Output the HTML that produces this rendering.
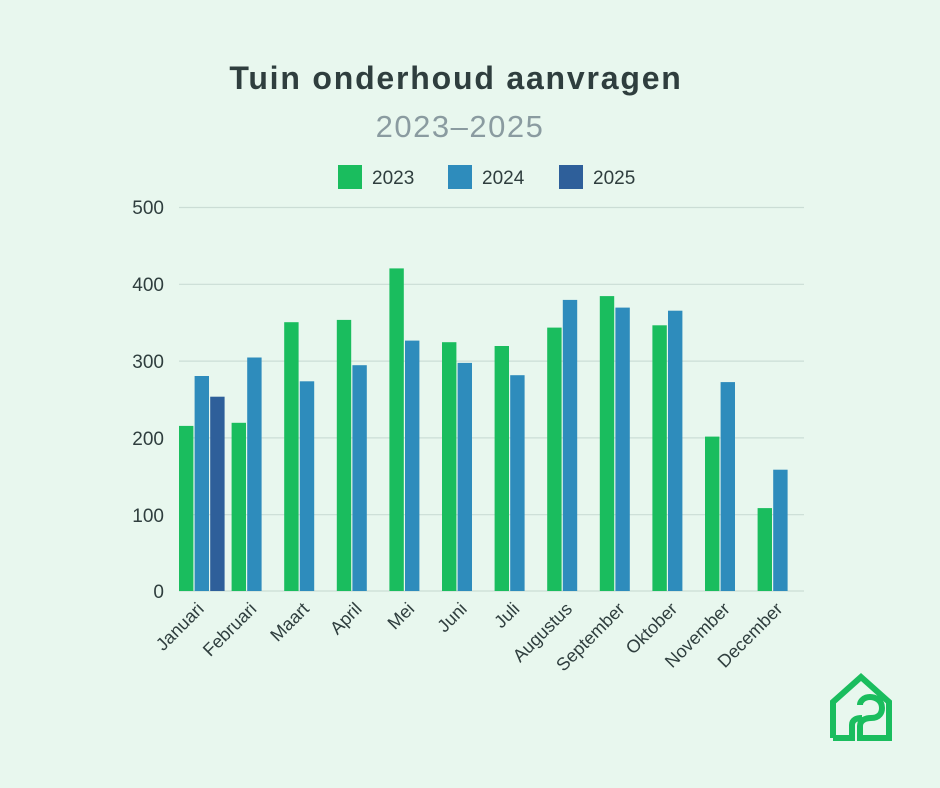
<!DOCTYPE html>
<html><head><meta charset="utf-8"><style>
body{margin:0;background:#e8f7ee;}
svg{display:block}
text{font-family:"Liberation Sans",sans-serif}
</style></head><body>
<svg width="940" height="788" viewBox="0 0 940 788">
<rect width="940" height="788" fill="#e8f7ee"/>
<text x="456" y="89" text-anchor="middle" font-size="32" font-weight="bold" letter-spacing="1.8" fill="#2f3e3e">Tuin onderhoud aanvragen</text>
<text x="460" y="137" text-anchor="middle" font-size="31" letter-spacing="1.5" fill="#8a9ba0">2023–2025</text>
<rect x="338" y="165" width="24" height="24" fill="#1abd5e"/><text x="372" y="184" font-size="19" fill="#2f3e3e">2023</text>
<rect x="448" y="165" width="24" height="24" fill="#2e8cbc"/><text x="482" y="184" font-size="19" fill="#2f3e3e">2024</text>
<rect x="559" y="165" width="24" height="24" fill="#2e5f9a"/><text x="593" y="184" font-size="19" fill="#2f3e3e">2025</text>
<g stroke="#cbddd5" stroke-width="1.2">
<line x1="179" x2="804" y1="207.5" y2="207.5"/><line x1="179" x2="804" y1="284.3" y2="284.3"/>
<line x1="179" x2="804" y1="361.1" y2="361.1"/><line x1="179" x2="804" y1="437.9" y2="437.9"/>
<line x1="179" x2="804" y1="514.7" y2="514.7"/><line x1="179" x2="804" y1="591" y2="591"/>
</g>
<g font-size="19" fill="#2f3e3e" text-anchor="end">
<text x="164" y="214">500</text><text x="164" y="291">400</text><text x="164" y="368">300</text>
<text x="164" y="445">200</text><text x="164" y="522">100</text><text x="164" y="598">0</text>
</g>
<g fill="#1abd5e">
<rect x="179" y="425.9" width="14.4" height="165.1"/>
<rect x="231.6" y="422.8" width="14.4" height="168.2"/>
<rect x="284.2" y="322.2" width="14.4" height="268.8"/>
<rect x="336.8" y="319.9" width="14.4" height="271.1"/>
<rect x="389.4" y="268.4" width="14.4" height="322.6"/>
<rect x="442" y="342.2" width="14.4" height="248.8"/>
<rect x="494.6" y="346" width="14.4" height="245"/>
<rect x="547.2" y="327.6" width="14.4" height="263.4"/>
<rect x="599.8" y="296.1" width="14.4" height="294.9"/>
<rect x="652.4" y="325.3" width="14.4" height="265.7"/>
<rect x="705" y="436.6" width="14.4" height="154.4"/>
<rect x="757.6" y="508.1" width="14.4" height="82.9"/>
</g>
<g fill="#2e8cbc">
<rect x="194.6" y="376" width="14.4" height="215"/>
<rect x="247.2" y="357.5" width="14.4" height="233.5"/>
<rect x="299.8" y="381.3" width="14.4" height="209.7"/>
<rect x="352.4" y="365.2" width="14.4" height="225.8"/>
<rect x="405" y="340.6" width="14.4" height="250.4"/>
<rect x="457.6" y="362.9" width="14.4" height="228.1"/>
<rect x="510.2" y="375.2" width="14.4" height="215.8"/>
<rect x="562.8" y="299.9" width="14.4" height="291.1"/>
<rect x="615.4" y="307.6" width="14.4" height="283.4"/>
<rect x="668" y="310.7" width="14.4" height="280.3"/>
<rect x="720.6" y="382.1" width="14.4" height="208.9"/>
<rect x="773.2" y="469.7" width="14.4" height="121.3"/>
</g>
<rect x="210.2" y="396.7" width="14.4" height="194.3" fill="#2e5f9a"/>
<g font-size="18" fill="#2f3e3e" text-anchor="end">
<text transform="translate(205,610) rotate(-45)">Januari</text>
<text transform="translate(257.6,610) rotate(-45)">Februari</text>
<text transform="translate(310.2,610) rotate(-45)">Maart</text>
<text transform="translate(362.8,610) rotate(-45)">April</text>
<text transform="translate(415.4,610) rotate(-45)">Mei</text>
<text transform="translate(468,610) rotate(-45)">Juni</text>
<text transform="translate(520.6,610) rotate(-45)">Juli</text>
<text transform="translate(573.2,610) rotate(-45)">Augustus</text>
<text transform="translate(625.8,610) rotate(-45)">September</text>
<text transform="translate(678.4,610) rotate(-45)">Oktober</text>
<text transform="translate(731,610) rotate(-45)">November</text>
<text transform="translate(783.6,610) rotate(-45)">December</text>
</g>
<g fill="none" stroke="#1abd5e" stroke-width="6">
<path d="M833 738 V702 L861 677 L889 702 V738 H860 V726 C860 720 866 718 871 718 C880 718 882 712 882 708 C882 700 875 697 870 697 C864 697 860 701 860 705"/>
<path d="M833 738 H852 V725 C852 720 856 718 862 718"/>
</g>
</svg>
</body></html>
